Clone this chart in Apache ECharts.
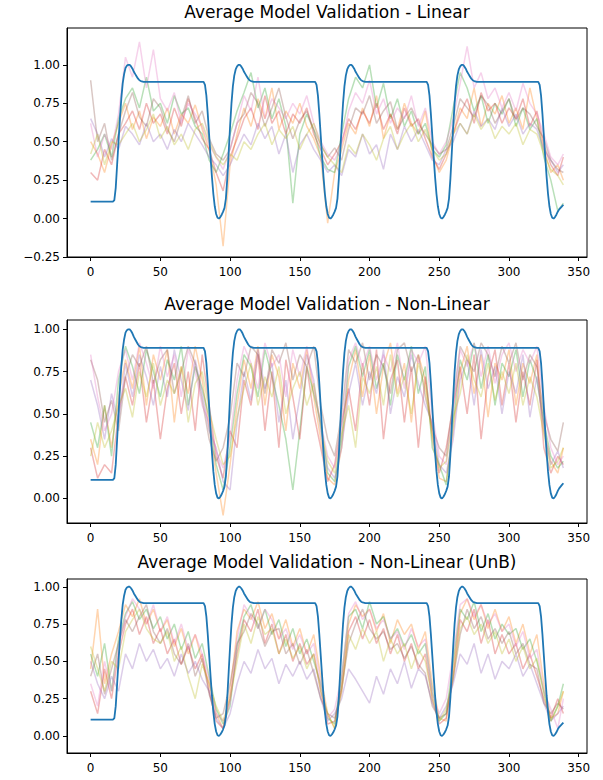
<!DOCTYPE html>
<html>
<head>
<meta charset="utf-8">
<script src="https://cdn.jsdelivr.net/npm/echarts@6/dist/echarts.min.js"></script>
<style>
  html, body { margin: 0; padding: 0; background: #fff; }
  #main { width: 603px; height: 780px; }
</style>
</head>
<body>
<div id="main"></div>
<script>
var titles = [
  "Average Model Validation - Linear",
  "Average Model Validation - Non-Linear",
  "Average Model Validation - Non-Linear (UnB)"
];
var xTicks = [0, 50, 100, 150, 200, 250, 300, 350];
var yTicksLin = [-0.25, 0, 0.25, 0.5, 0.75, 1.0];
var yTicks = [0, 0.25, 0.5, 0.75, 1.0];

// reference signal (blue), same in the three panels
var blueLine = [
  [0, 0.11], [16, 0.11], [17, 0.12], [18, 0.2], [19, 0.35], [20, 0.5], [21, 0.65], [22, 0.78], [23, 0.88],
  [24, 0.94], [25, 0.98], [26, 0.995], [27, 1.0], [28, 1.0], [29, 0.99], [30, 0.975], [31, 0.955], [32, 0.94],
  [33, 0.925], [34, 0.91], [35, 0.9], [36, 0.895], [38, 0.89],
  [81, 0.89], [82, 0.87], [83, 0.8], [84, 0.68], [85, 0.54], [86, 0.4], [87, 0.27], [88, 0.16], [89, 0.08],
  [90, 0.03], [91, 0.005], [92, 0], [93, 0.01], [94, 0.025], [95, 0.045], [96, 0.07], [97, 0.13], [98, 0.26],
  [99, 0.43], [100, 0.6], [101, 0.75], [102, 0.86], [103, 0.93], [104, 0.97], [105, 0.99], [106, 1.0], [107, 1.0],
  [108, 0.99], [109, 0.975], [110, 0.955], [111, 0.94], [112, 0.925], [113, 0.91], [114, 0.9], [115, 0.895], [117, 0.89],
  [161, 0.89], [162, 0.87], [163, 0.8], [164, 0.68], [165, 0.54], [166, 0.4], [167, 0.27], [168, 0.16], [169, 0.08],
  [170, 0.03], [171, 0.005], [172, 0], [173, 0.01], [174, 0.025], [175, 0.045], [176, 0.07], [177, 0.13], [178, 0.26],
  [179, 0.43], [180, 0.6], [181, 0.75], [182, 0.86], [183, 0.93], [184, 0.97], [185, 0.99], [186, 1.0], [187, 1.0],
  [188, 0.99], [189, 0.975], [190, 0.955], [191, 0.94], [192, 0.925], [193, 0.91], [194, 0.9], [195, 0.895], [197, 0.89],
  [241, 0.89], [242, 0.87], [243, 0.8], [244, 0.68], [245, 0.54], [246, 0.4], [247, 0.27], [248, 0.16], [249, 0.08],
  [250, 0.03], [251, 0.005], [252, 0], [253, 0.01], [254, 0.025], [255, 0.045], [256, 0.07], [257, 0.13], [258, 0.26],
  [259, 0.43], [260, 0.6], [261, 0.75], [262, 0.86], [263, 0.93], [264, 0.97], [265, 0.99], [266, 1.0], [267, 1.0],
  [268, 0.99], [269, 0.975], [270, 0.955], [271, 0.94], [272, 0.925], [273, 0.91], [274, 0.9], [275, 0.895], [277, 0.89],
  [321, 0.89], [322, 0.87], [323, 0.8], [324, 0.68], [325, 0.54], [326, 0.4], [327, 0.27], [328, 0.16], [329, 0.08],
  [330, 0.03], [331, 0.005], [332, 0], [333, 0.01], [334, 0.025], [335, 0.045], [336, 0.06], [337, 0.07], [338, 0.08], [339, 0.09]
];

// sample positions of the model runs
var runX = [0, 5, 10, 15, 20, 25, 30, 35, 40, 45, 50, 55, 60, 65, 70, 75, 80, 85, 90, 95,
  100, 105, 110, 115, 120, 125, 130, 135, 140, 145, 150, 155, 160, 165, 170, 175, 180, 185, 190, 195,
  200, 205, 210, 215, 220, 225, 230, 235, 240, 245, 250, 255, 260, 265, 270, 275, 280, 285, 290, 295,
  300, 305, 310, 315, 320, 325, 330, 335, 339];

var runColors = ["#ff7f0e", "#2ca02c", "#d62728", "#9467bd", "#8c564b", "#e377c2", "#bcbd22"];

// panel 1 - Linear
var linOrange = [0.50, 0.42, 0.30, 0.48, 0.62, 0.75, 0.58, 0.70, 0.52, 0.66,
  0.60, 0.72, 0.55, 0.68, 0.62, 0.74, 0.58, 0.45, 0.22, -0.18,
  0.35, 0.55, 0.72, 0.60, 0.78, 0.65, 0.85, 0.58, 0.70, 0.62,
  0.75, 0.60, 0.52, 0.40, -0.03, 0.30, 0.45, 0.62, 0.55, 0.72,
  0.60, 0.80, 0.52, 0.68, 0.58, 0.75, 0.62, 0.55, 0.70, 0.42,
  0.30, 0.38, 0.55, 0.72, 0.65, 0.85, 0.60, 0.75, 0.68, 0.80,
  0.62, 0.72, 0.58, 0.85, 0.65, 0.45, 0.30, 0.35, 0.25];
var linGreen = [0.38, 0.45, 0.55, 0.40, 0.65, 0.78, 0.85, 0.72, 0.92, 0.70,
  0.75, 0.62, 0.80, 0.68, 0.72, 0.60, 0.55, 0.38, 0.30, 0.42,
  0.55, 0.70, 0.82, 0.95, 0.72, 0.85, 0.65, 0.78, 0.60, 0.10,
  0.55, 0.68, 0.58, 0.40, 0.32, 0.30, 0.55, 0.78, 0.92, 0.85,
  1.00, 0.72, 0.88, 0.65, 0.78, 0.60, 0.70, 0.55, 0.62, 0.45,
  0.40, 0.48, 0.72, 0.95, 0.85, 0.70, 0.80, 0.62, 0.75, 0.68,
  0.78, 0.60, 0.72, 0.58, 0.65, 0.40, 0.25, 0.05, 0.10];
var linRed = [0.30, 0.25, 0.45, 0.35, 0.55, 0.62, 0.70, 0.58, 0.75, 0.62,
  0.68, 0.55, 0.72, 0.60, 0.78, 0.65, 0.52, 0.45, 0.30, 0.18,
  0.40, 0.52, 0.65, 0.72, 0.58, 0.80, 0.62, 0.70, 0.55, 0.68,
  0.62, 0.72, 0.55, 0.45, 0.35, 0.42, 0.50, 0.65, 0.58, 0.70,
  0.62, 0.75, 0.58, 0.68, 0.55, 0.72, 0.60, 0.65, 0.52, 0.40,
  0.32, 0.42, 0.55, 0.68, 0.78, 0.62, 0.82, 0.70, 0.75, 0.62,
  0.72, 0.65, 0.78, 0.60, 0.70, 0.48, 0.35, 0.28, 0.40];
var linPurple = [0.65, 0.55, 0.40, 0.52, 0.45, 0.60, 0.55, 0.48, 0.62, 0.50,
  0.55, 0.45, 0.58, 0.50, 0.62, 0.55, 0.48, 0.40, 0.35, 0.28,
  0.35, 0.45, 0.55, 0.48, 0.62, 0.52, 0.60, 0.42, 0.55, 0.30,
  0.48, 0.55, 0.45, 0.38, 0.30, 0.35, 0.28, 0.45, 0.40, 0.55,
  0.42, 0.48, 0.32, 0.55, 0.45, 0.60, 0.50, 0.58, 0.48, 0.38,
  0.35, 0.45, 0.50, 0.62, 0.55, 0.70, 0.60, 0.65, 0.58, 0.72,
  0.60, 0.68, 0.55, 0.62, 0.58, 0.45, 0.38, 0.30, 0.35];
var linBrown = [0.90, 0.50, 0.62, 0.38, 0.55, 0.70, 0.82, 0.66, 0.60, 0.78,
  0.72, 0.58, 0.50, 0.65, 0.80, 0.62, 0.70, 0.52, 0.42, 0.38,
  0.45, 0.62, 0.68, 0.82, 0.75, 0.60, 0.72, 0.85, 0.66, 0.52,
  0.64, 0.70, 0.58, 0.48, 0.40, 0.46, 0.38, 0.58, 0.72, 0.68,
  0.80, 0.62, 0.70, 0.76, 0.58, 0.66, 0.72, 0.62, 0.55, 0.48,
  0.42, 0.45, 0.60, 0.78, 0.72, 0.66, 0.80, 0.74, 0.62, 0.70,
  0.78, 0.64, 0.72, 0.68, 0.60, 0.52, 0.38, 0.32, 0.30];
var linPink = [0.62, 0.40, 0.55, 0.45, 0.68, 1.05, 0.92, 1.15, 0.85, 1.10,
  0.78, 0.70, 0.82, 0.62, 0.75, 0.68, 0.60, 0.48, 0.40, 0.32,
  0.45, 0.62, 0.80, 0.70, 0.92, 0.65, 0.78, 0.72, 0.65, 0.75,
  0.68, 0.80, 0.62, 0.50, 0.42, 0.38, 0.48, 0.70, 0.82, 0.75,
  0.90, 0.68, 0.78, 0.62, 0.72, 0.65, 0.80, 0.60, 0.72, 0.50,
  0.42, 0.50, 0.65, 0.88, 1.12, 0.85, 0.95, 0.78, 0.85, 0.72,
  0.82, 0.70, 0.88, 0.75, 0.68, 0.55, 0.40, 0.35, 0.42];
var linOlive = [0.42, 0.55, 0.35, 0.50, 0.48, 0.55, 0.62, 0.50, 0.58, 0.68,
  0.52, 0.60, 0.48, 0.55, 0.45, 0.58, 0.62, 0.50, 0.40, 0.35,
  0.42, 0.38, 0.50, 0.45, 0.55, 0.62, 0.48, 0.58, 0.52, 0.60,
  0.45, 0.55, 0.62, 0.48, 0.40, 0.35, 0.30, 0.48, 0.42, 0.55,
  0.48, 0.38, 0.52, 0.60, 0.45, 0.55, 0.62, 0.50, 0.58, 0.45,
  0.38, 0.42, 0.55, 0.62, 0.55, 0.68, 0.58, 0.65, 0.52, 0.60,
  0.55, 0.62, 0.48, 0.58, 0.55, 0.42, 0.32, 0.28, 0.22];

// panel 2 - Non-Linear
var nlOrange = [0.35, 0.20, 0.55, 0.30, 0.60, 0.82, 0.65, 0.90, 0.55, 0.85,
  0.70, 0.88, 0.45, 0.78, 0.62, 0.90, 0.70, 0.42, 0.15, -0.10,
  0.20, 0.55, 0.82, 0.65, 0.90, 0.55, 0.85, 0.72, 0.40, 0.80,
  0.65, 0.88, 0.60, 0.35, 0.12, 0.08, 0.30, 0.70, 0.88, 0.60,
  0.85, 0.50, 0.78, 0.92, 0.62, 0.80, 0.45, 0.85, 0.70, 0.35,
  0.12, 0.10, 0.40, 0.75, 0.90, 0.62, 0.85, 0.48, 0.80, 0.70,
  0.88, 0.55, 0.80, 0.68, 0.85, 0.40, 0.22, 0.15, 0.30];
var nlGreen = [0.45, 0.30, 0.55, 0.25, 0.70, 0.90, 0.78, 0.62, 0.88, 0.75,
  0.60, 0.82, 0.70, 0.90, 0.55, 0.78, 0.65, 0.48, 0.20, 0.05,
  0.30, 0.62, 0.85, 0.78, 0.60, 0.88, 0.72, 0.55, 0.35, 0.05,
  0.40, 0.78, 0.62, 0.45, 0.15, 0.10, 0.35, 0.78, 0.90, 0.72,
  0.88, 0.65, 0.80, 0.55, 0.85, 0.70, 0.90, 0.62, 0.78, 0.30,
  0.20, 0.08, 0.45, 0.82, 0.70, 0.92, 0.65, 0.85, 0.55, 0.80,
  0.72, 0.88, 0.60, 0.82, 0.70, 0.45, 0.25, 0.18, 0.22];
var nlRed = [0.30, 0.12, 0.20, 0.15, 0.50, 0.72, 0.55, 0.80, 0.45, 0.70,
  0.35, 0.65, 0.80, 0.50, 0.75, 0.40, 0.85, 0.55, 0.25, 0.12,
  0.40, 0.30, 0.70, 0.55, 0.85, 0.40, 0.75, 0.30, 0.82, 0.60,
  0.35, 0.78, 0.50, 0.30, 0.10, 0.20, 0.45, 0.65, 0.40, 0.80,
  0.55, 0.88, 0.35, 0.70, 0.82, 0.45, 0.78, 0.30, 0.72, 0.40,
  0.15, 0.30, 0.55, 0.78, 0.50, 0.85, 0.35, 0.72, 0.88, 0.55,
  0.80, 0.45, 0.75, 0.55, 0.82, 0.30, 0.15, 0.25, 0.20];
var nlPurple = [0.70, 0.55, 0.35, 0.62, 0.45, 0.80, 0.60, 0.85, 0.72, 0.55,
  0.78, 0.60, 0.88, 0.70, 0.52, 0.82, 0.62, 0.40, 0.30, 0.10,
  0.05, 0.45, 0.75, 0.58, 0.88, 0.65, 0.80, 0.45, 0.70, 0.35,
  0.60, 0.85, 0.70, 0.40, 0.18, 0.12, 0.30, 0.62, 0.80, 0.55,
  0.75, 0.62, 0.88, 0.50, 0.72, 0.60, 0.85, 0.68, 0.55, 0.45,
  0.20, 0.15, 0.35, 0.70, 0.82, 0.55, 0.88, 0.65, 0.78, 0.50,
  0.75, 0.62, 0.85, 0.48, 0.72, 0.42, 0.20, 0.28, 0.18];
var nlBrown = [0.82, 0.70, 0.45, 0.58, 0.40, 0.72, 0.85, 0.78, 0.90, 0.68,
  0.82, 0.88, 0.62, 0.75, 0.90, 0.80, 0.58, 0.35, 0.22, 0.30,
  0.48, 0.80, 0.72, 0.90, 0.85, 0.62, 0.88, 0.80, 0.92, 0.70,
  0.85, 0.78, 0.90, 0.55, 0.35, 0.25, 0.50, 0.88, 0.80, 0.92,
  0.70, 0.85, 0.78, 0.62, 0.88, 0.92, 0.75, 0.85, 0.60, 0.42,
  0.30, 0.25, 0.58, 0.90, 0.82, 0.75, 0.92, 0.85, 0.72, 0.90,
  0.80, 0.92, 0.70, 0.85, 0.78, 0.50, 0.35, 0.28, 0.45];
var nlPink = [0.85, 0.60, 0.40, 0.50, 0.75, 0.88, 0.70, 0.92, 0.80, 0.65,
  0.90, 0.72, 0.85, 0.60, 0.88, 0.75, 0.55, 0.45, 0.28, 0.18,
  0.35, 0.70, 0.90, 0.80, 0.65, 0.92, 0.78, 0.85, 0.60, 0.88,
  0.72, 0.90, 0.65, 0.45, 0.25, 0.18, 0.40, 0.82, 0.92, 0.78,
  0.90, 0.70, 0.85, 0.75, 0.92, 0.65, 0.88, 0.80, 0.90, 0.50,
  0.25, 0.20, 0.52, 0.88, 0.78, 0.92, 0.72, 0.90, 0.68, 0.85,
  0.92, 0.75, 0.88, 0.80, 0.90, 0.55, 0.30, 0.20, 0.25];
var nlOlive = [0.25, 0.45, 0.30, 0.40, 0.55, 0.65, 0.48, 0.75, 0.60, 0.80,
  0.55, 0.70, 0.62, 0.78, 0.45, 0.68, 0.75, 0.52, 0.35, 0.20,
  0.25, 0.48, 0.65, 0.80, 0.55, 0.72, 0.60, 0.78, 0.50, 0.65,
  0.75, 0.55, 0.68, 0.42, 0.22, 0.15, 0.38, 0.55, 0.30, 0.72,
  0.62, 0.78, 0.55, 0.85, 0.60, 0.72, 0.50, 0.80, 0.65, 0.38,
  0.18, 0.22, 0.48, 0.62, 0.85, 0.70, 0.60, 0.80, 0.58, 0.75,
  0.62, 0.80, 0.55, 0.72, 0.60, 0.38, 0.18, 0.22, 0.30];

// panel 3 - Non-Linear (UnB)
var ubOrange = [0.45, 0.85, 0.35, 0.55, 0.70, 0.88, 0.80, 0.92, 0.75, 0.85,
  0.70, 0.78, 0.60, 0.72, 0.55, 0.68, 0.50, 0.35, 0.15, 0.05,
  0.30, 0.70, 0.85, 0.78, 0.90, 0.72, 0.82, 0.65, 0.78, 0.60,
  0.72, 0.55, 0.68, 0.40, 0.15, 0.05, 0.35, 0.75, 0.88, 0.80,
  0.85, 0.70, 0.82, 0.62, 0.78, 0.68, 0.75, 0.58, 0.70, 0.35,
  0.12, 0.10, 0.45, 0.82, 0.92, 0.78, 0.88, 0.72, 0.85, 0.70,
  0.80, 0.62, 0.75, 0.55, 0.68, 0.35, 0.12, 0.15, 0.30];
var ubGreen = [0.55, 0.40, 0.62, 0.30, 0.65, 0.82, 0.90, 0.78, 0.85, 0.72,
  0.80, 0.65, 0.75, 0.58, 0.70, 0.52, 0.62, 0.40, 0.18, 0.08,
  0.20, 0.60, 0.80, 0.88, 0.72, 0.85, 0.68, 0.78, 0.60, 0.72,
  0.55, 0.65, 0.50, 0.35, 0.12, 0.08, 0.40, 0.80, 0.85, 0.72,
  0.90, 0.75, 0.80, 0.65, 0.72, 0.60, 0.68, 0.55, 0.62, 0.30,
  0.10, 0.15, 0.50, 0.85, 0.78, 0.90, 0.70, 0.82, 0.65, 0.75,
  0.68, 0.72, 0.58, 0.65, 0.50, 0.30, 0.10, 0.20, 0.35];
var ubRed = [0.30, 0.15, 0.45, 0.25, 0.55, 0.75, 0.85, 0.68, 0.80, 0.62,
  0.72, 0.55, 0.65, 0.48, 0.60, 0.45, 0.55, 0.30, 0.10, 0.05,
  0.25, 0.55, 0.78, 0.70, 0.85, 0.62, 0.75, 0.55, 0.68, 0.50,
  0.62, 0.48, 0.55, 0.30, 0.08, 0.10, 0.30, 0.70, 0.80, 0.65,
  0.78, 0.62, 0.72, 0.55, 0.68, 0.50, 0.62, 0.45, 0.55, 0.25,
  0.08, 0.12, 0.40, 0.78, 0.70, 0.85, 0.62, 0.78, 0.55, 0.68,
  0.55, 0.62, 0.45, 0.55, 0.40, 0.25, 0.12, 0.25, 0.15];
var ubPurple = [0.50, 0.35, 0.25, 0.40, 0.30, 0.55, 0.45, 0.62, 0.50, 0.58,
  0.45, 0.52, 0.40, 0.55, 0.42, 0.50, 0.38, 0.30, 0.12, 0.05,
  0.15, 0.35, 0.50, 0.42, 0.58, 0.45, 0.52, 0.35, 0.48, 0.40,
  0.50, 0.38, 0.45, 0.25, 0.10, 0.15, 0.25, 0.45, 0.38, 0.30,
  0.22, 0.40, 0.28, 0.45, 0.35, 0.50, 0.32, 0.45, 0.40, 0.22,
  0.12, 0.20, 0.35, 0.55, 0.48, 0.62, 0.42, 0.55, 0.38, 0.50,
  0.45, 0.55, 0.40, 0.48, 0.35, 0.22, 0.10, 0.15, 0.20];
var ubBrown = [0.40, 0.55, 0.28, 0.45, 0.62, 0.78, 0.70, 0.80, 0.88, 0.70,
  0.62, 0.72, 0.55, 0.48, 0.62, 0.40, 0.52, 0.28, 0.12, 0.15,
  0.35, 0.62, 0.70, 0.82, 0.75, 0.60, 0.70, 0.72, 0.55, 0.62,
  0.48, 0.58, 0.42, 0.25, 0.15, 0.12, 0.32, 0.62, 0.75, 0.85,
  0.72, 0.65, 0.70, 0.58, 0.62, 0.52, 0.60, 0.48, 0.42, 0.20,
  0.12, 0.15, 0.38, 0.68, 0.85, 0.72, 0.80, 0.65, 0.72, 0.62,
  0.70, 0.55, 0.62, 0.48, 0.45, 0.22, 0.15, 0.22, 0.18];
var ubPink = [0.35, 0.20, 0.50, 0.30, 0.60, 0.80, 0.92, 0.85, 0.75, 0.88,
  0.70, 0.80, 0.62, 0.75, 0.58, 0.68, 0.55, 0.38, 0.15, 0.10,
  0.22, 0.65, 0.88, 0.80, 0.72, 0.85, 0.78, 0.65, 0.72, 0.58,
  0.68, 0.55, 0.62, 0.35, 0.12, 0.18, 0.40, 0.82, 0.90, 0.78,
  0.85, 0.72, 0.78, 0.65, 0.70, 0.58, 0.72, 0.60, 0.65, 0.28,
  0.15, 0.25, 0.55, 0.88, 0.92, 0.80, 0.88, 0.75, 0.82, 0.70,
  0.75, 0.60, 0.70, 0.52, 0.58, 0.30, 0.18, 0.05, 0.25];
var ubOlive = [0.60, 0.45, 0.30, 0.50, 0.45, 0.70, 0.78, 0.85, 0.72, 0.65,
  0.62, 0.70, 0.50, 0.60, 0.40, 0.25, 0.48, 0.35, 0.20, 0.10,
  0.25, 0.50, 0.75, 0.62, 0.80, 0.68, 0.72, 0.55, 0.65, 0.52,
  0.60, 0.45, 0.55, 0.30, 0.15, 0.05, 0.30, 0.68, 0.58, 0.72,
  0.62, 0.70, 0.50, 0.65, 0.55, 0.62, 0.45, 0.58, 0.50, 0.25,
  0.10, 0.18, 0.40, 0.72, 0.80, 0.68, 0.75, 0.62, 0.70, 0.55,
  0.65, 0.50, 0.60, 0.45, 0.52, 0.28, 0.10, 0.20, 0.30];

var panels = [
  { runs: [linOrange, linGreen, linRed, linPurple, linBrown, linPink, linOlive], top: 28, height: 229, min: -0.25, max: 1.24, ticks: yTicksLin, titleTop: 3 },
  { runs: [nlOrange, nlGreen, nlRed, nlPurple, nlBrown, nlPink, nlOlive], top: 320, height: 203, min: -0.145, max: 1.055, ticks: yTicks, titleTop: 295 },
  { runs: [ubOrange, ubGreen, ubRed, ubPurple, ubBrown, ubPink, ubOlive], top: 579, height: 174, min: -0.114, max: 1.052, ticks: yTicks, titleTop: 553 }
];

var font = "DejaVu Sans";
var chart = echarts.init(document.getElementById("main"), null, { renderer: "svg" });

var option = { animation: false, backgroundColor: "#fff", title: [], grid: [], xAxis: [], yAxis: [], series: [] };

panels.forEach(function (p, k) {
  option.title.push({
    text: titles[k], left: 327, top: p.titleTop, textAlign: "center", padding: 0,
    textStyle: { fontFamily: font, fontSize: 17, fontWeight: "normal", color: "#000" }
  });
  option.grid.push({
    left: 67, top: p.top, width: 520, height: p.height,
    show: true, borderColor: "#000", borderWidth: 1, backgroundColor: "transparent"
  });
  option.xAxis.push({
    type: "value", gridIndex: k, min: -16.95, max: 355.95,
    splitLine: { show: false },
    axisLine: { show: true, onZero: false, lineStyle: { color: "#000", width: 1 } },
    axisTick: { show: true, length: 4, lineStyle: { color: "#000" }, customValues: xTicks },
    axisLabel: { margin: 9, fontFamily: font, fontSize: 12, color: "#000", customValues: xTicks }
  });
  option.yAxis.push({
    type: "value", gridIndex: k, min: p.min, max: p.max,
    splitLine: { show: false },
    axisLine: { show: true, onZero: false, lineStyle: { color: "#000", width: 1 } },
    axisTick: { show: true, length: 4, lineStyle: { color: "#000" }, customValues: p.ticks },
    axisLabel: {
      margin: 7, fontFamily: font, fontSize: 12, color: "#000", customValues: p.ticks,
      formatter: function (v) { return v < 0 ? "\u2212" + Math.abs(v).toFixed(2) : v.toFixed(2); }
    }
  });
  p.runs.forEach(function (arr, j) {
    option.series.push({
      type: "line", xAxisIndex: k, yAxisIndex: k, showSymbol: false, silent: true,
      data: runX.map(function (x, i) { return [x, arr[i]]; }),
      lineStyle: { color: runColors[j], width: 1.5, opacity: 0.33 }
    });
  });
  option.series.push({
    type: "line", xAxisIndex: k, yAxisIndex: k, showSymbol: false, silent: true,
    data: blueLine,
    lineStyle: { color: "#1f77b4", width: 1.8 }
  });
});

chart.setOption(option);
</script>
</body>
</html>
